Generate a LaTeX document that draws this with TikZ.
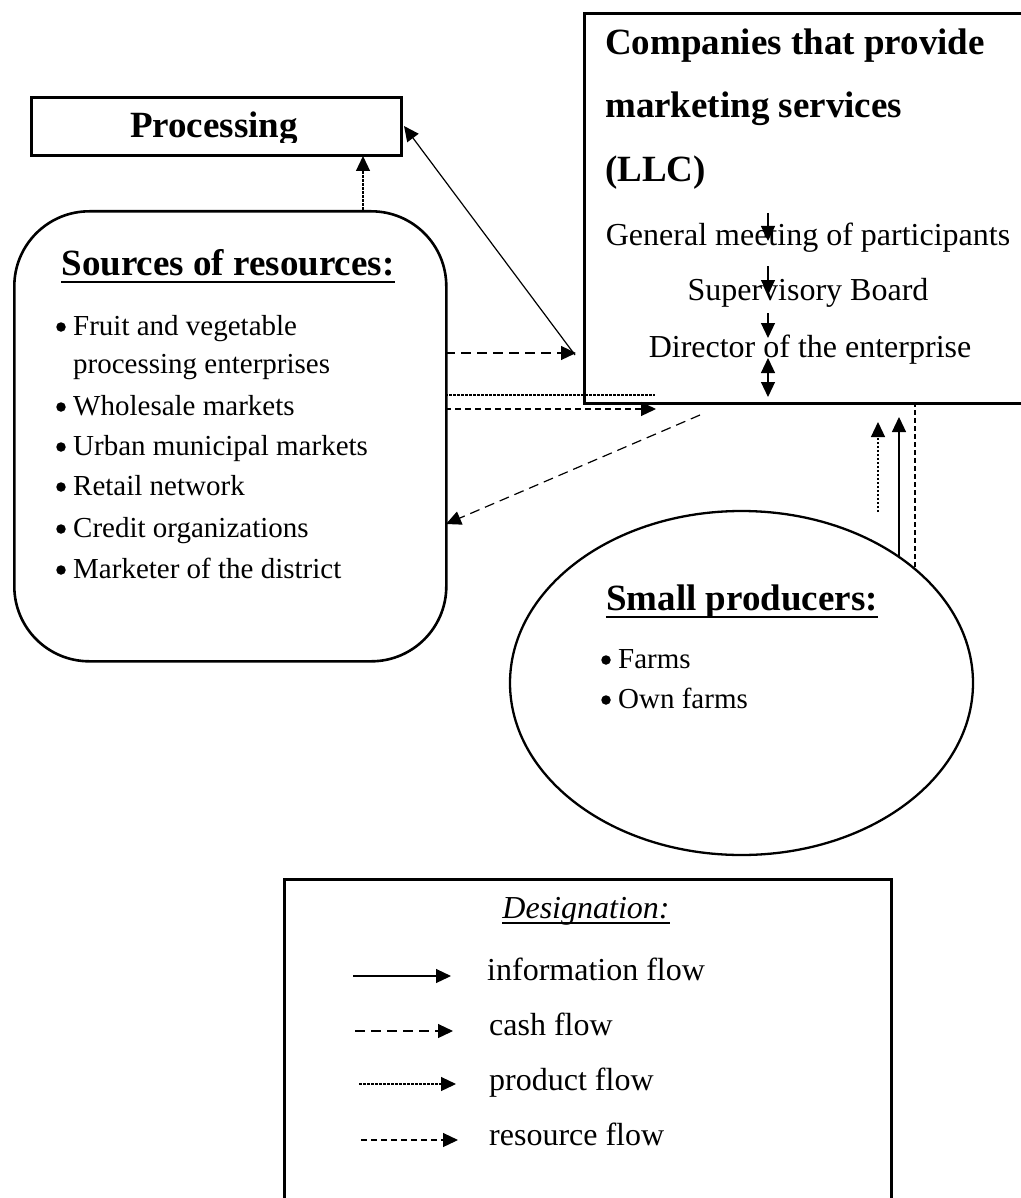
\documentclass[tikz,border=0pt]{standalone}
\usepackage{fontspec}
\setmainfont{Liberation Serif}
\usetikzlibrary{arrows.meta,shapes.geometric,calc}
\begin{document}
\begin{tikzpicture}[x=1pt,y=-1pt,
  frame/.style={draw, line width=2.6pt, inner sep=0pt},
  body/.style={font=\fontsize{29}{36}\selectfont, inner sep=0pt},
  big/.style={font=\fontsize{32}{38}\selectfont, inner sep=0pt},
  head/.style={font=\fontsize{37}{44}\selectfont\bfseries, inner sep=0pt},
  dot/.style={circle, fill=black, inner sep=0pt, minimum size=9.5pt},
  flow/.style={line width=1.2pt, -{Triangle[length=15pt,width=14pt]}},
  info/.style={flow},
  cash/.style={flow, dash pattern=on 10pt off 6pt},
  product/.style={flow, dash pattern=on 2.5pt off 1.5pt},
  resource/.style={flow, dash pattern=on 6pt off 4pt},
  plainline/.style={line width=1.2pt},
  uline/.style={line width=2.8pt},
]
\useasboundingbox (0,0) rectangle (1020,1198);

% ---- boxes ----
\node[frame, rectangle, anchor=north west, minimum width=370pt, minimum height=58pt] (proc) at (30,96) {};
\begin{scope}
  \clip (30,96) rectangle (400,143);
  \node[head, anchor=base] (proctext) at (214,138) {Processing};
\end{scope}

\node[frame, rectangle, anchor=north west, minimum width=445pt, minimum height=390pt] (llc) at (583,12) {};
\node[frame, rectangle, rounded corners=75pt, anchor=north west, minimum width=432pt, minimum height=450pt] (src) at (13,210) {};
\node[frame, line width=2.3pt, ellipse, minimum width=463pt, minimum height=344pt] (small) at (741.5,683) {};
\node[frame, rectangle, anchor=north west, minimum width=607pt, minimum height=340pt] (legend) at (283,878) {};

% ---- company texts ----
\node[head, anchor=base west] (llc1) at (605,55) {Companies that provide};
\node[head, anchor=base west] (llc2) at (605,118) {marketing services};
\node[head, anchor=base west] (llc3) at (605,182) {(LLC)};
\node[big, anchor=base] (gm) at (808,245) {General meeting of participants};
\node[big, anchor=base] (sb) at (808,300) {Supervisory Board};
\node[big, anchor=base] (dir) at (810,357) {Director of the enterprise};

% internal hierarchy arrows
\coordinate (a1s) at (768,213); \coordinate (a1e) at (768,241);
\coordinate (a2s) at (768,266); \coordinate (a2e) at (768,295);
\coordinate (a3s) at (768,313); \coordinate (a3e) at (768,338);
\coordinate (a4s) at (768,358); \coordinate (a4e) at (768,397);
\draw[info] (a1s) -- (a1e);
\draw[info] (a2s) -- (a2e);
\draw[info] (a3s) -- (a3e);
\draw[plainline, {Triangle[length=15pt,width=14pt]}-{Triangle[length=15pt,width=14pt]}] (a4s) -- (a4e);

% ---- sources texts ----
\node[head, anchor=base] (srchead) at (228,275) {Sources of resources:};
\draw[uline] ([yshift=-7pt]srchead.base west) -- ([yshift=-7pt]srchead.base east);
\node[body, anchor=base west] (s1) at (73,335) {Fruit and vegetable};
\node[body, anchor=base west] (s1b) at (73,373) {processing enterprises};
\node[body, anchor=base west] (s2) at (73,415) {Wholesale markets};
\node[body, anchor=base west] (s3) at (73,455) {Urban municipal markets};
\node[body, anchor=base west] (s4) at (73,495) {Retail network};
\node[body, anchor=base west] (s5) at (73,537) {Credit organizations};
\node[body, anchor=base west] (s6) at (73,578) {Marketer of the district};
\foreach \b in {s1,s2,s3,s4,s5,s6}
  \node[dot] (\b dot) at ([xshift=-12pt, yshift=8pt]\b.base west) {};

% ---- small producers texts ----
\node[head, anchor=base] (smhead) at (742,610) {Small producers:};
\draw[uline] ([yshift=-7pt]smhead.base west) -- ([yshift=-7pt]smhead.base east);
\node[body, anchor=base west] (f1) at (618,668) {Farms};
\node[body, anchor=base west] (f2) at (618,708) {Own farms};
\foreach \b in {f1,f2}
  \node[dot] (\b dot) at ([xshift=-12pt, yshift=8pt]\b.base west) {};

% ---- flows between blocks ----
\coordinate (pu0) at (363,210); \coordinate (pu1) at (363,156);
\draw[product] (pu0) -- (pu1);

\coordinate (iA) at (575,355); \coordinate (iB) at (404,126);
\draw[info] (iA) -- (iB);

\coordinate (c0) at (445,353); \coordinate (c1) at (576,353);
\draw[cash] (c0) -- (c1);

\coordinate (d0) at (445,395); \coordinate (d1) at (655,395);
\draw[plainline, dash pattern=on 2.5pt off 1.5pt] (d0) -- (d1);

\coordinate (r0) at (445,409); \coordinate (r1) at (656,409);
\draw[resource] (r0) -- (r1);

\coordinate (g0) at (700,415); \coordinate (g1) at (446,524);
\draw[cash] (g0) -- (g1);

\coordinate (v0) at (915,402); \coordinate (v1) at (915,567);
\draw[plainline, dash pattern=on 5pt off 3pt] (v0) -- (v1);

\coordinate (w0) at (899,558); \coordinate (w1) at (899,417);
\draw[info] (w0) -- (w1);

\coordinate (p0) at (878,512); \coordinate (p1) at (878,422);
\draw[product] (p0) -- (p1);

% ---- legend ----
\node[font=\fontsize{32}{38}\selectfont\itshape, inner sep=0pt, anchor=base] (lhead) at (586,918) {Designation:};
\draw[line width=1.3pt] ([yshift=-5pt]lhead.base west) -- ([yshift=-5pt]lhead.base east);

\coordinate (l1a) at (353,976); \coordinate (l1b) at (451,976);
\draw[info] (l1a) -- (l1b);
\node[big, anchor=base west] (l1t) at (487,980) {information flow};

\coordinate (l2a) at (355,1031); \coordinate (l2b) at (453,1031);
\draw[cash] (l2a) -- (l2b);
\node[big, anchor=base west] (l2t) at (489,1035) {cash flow};

\coordinate (l3a) at (359,1084); \coordinate (l3b) at (456,1084);
\draw[product] (l3a) -- (l3b);
\node[big, anchor=base west] (l3t) at (489,1090) {product flow};

\coordinate (l4a) at (361,1140); \coordinate (l4b) at (458,1140);
\draw[resource] (l4a) -- (l4b);
\node[big, anchor=base west] (l4t) at (489,1145) {resource flow};
\end{tikzpicture}
\end{document}
